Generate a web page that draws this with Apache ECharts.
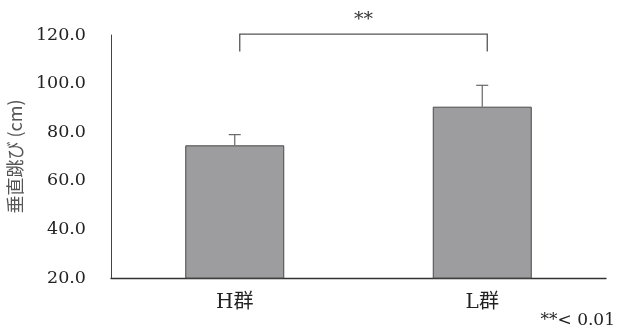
<!DOCTYPE html>
<html><head><meta charset="utf-8">
<script src="https://cdn.jsdelivr.net/npm/echarts@6/dist/echarts.min.js"></script>
<style>html,body{margin:0;padding:0;background:#fff}#c{width:617px;height:331px}</style>
</head><body><div id="c"></div>
<script>
const categories = ['H群', 'L群'];
const means = [74.6, 90.5];
const sds = [4.4, 8.8];
const yTicks = [20, 40, 60, 80, 100, 120];
const sigLabel = '**';
const noteText = '**< 0.01';

const serif = '"DejaVu Serif", "Liberation Serif", serif';
const chart = echarts.init(document.getElementById('c'), null, {renderer: 'canvas'});
chart.setOption({
  animation: false,
  grid: {left: 111, right: 11, top: 35, bottom: 53, outerBoundsMode: 'none', containLabel: false},
  xAxis: {
    type: 'category', data: categories,
    axisLine: {lineStyle: {color: '#333', width: 1.3}},
    axisTick: {show: false},
    axisLabel: {fontFamily: '"DejaVu Serif", "Noto Sans CJK JP", serif', fontSize: 20, color: '#222', margin: 15}
  },
  yAxis: {
    type: 'value', min: yTicks[0], max: yTicks[yTicks.length - 1], interval: 20,
    name: '垂直跳び (cm)', nameLocation: 'middle', nameGap: 87, nameRotate: 90,
    nameTextStyle: {fontFamily: '"Noto Sans CJK JP", serif', fontSize: 18, color: '#555'},
    axisLine: {show: true, lineStyle: {color: '#444', width: 1}},
    axisTick: {show: false},
    splitLine: {show: false},
    axisLabel: {fontFamily: serif, fontSize: 17.5, color: '#222', margin: 25,
      formatter: v => v.toFixed(1)}
  },
  series: [
    {
      type: 'bar', data: means, barWidth: '40%',
      itemStyle: {color: '#9d9da0', borderColor: '#4a4a4a', borderWidth: 1}
    },
    {
      type: 'custom', z: 5,
      data: means.map((m, i) => [i, m, sds[i]]),
      renderItem: function (params, api) {
        const i = api.value(0), m = api.value(1), s = api.value(2);
        const p0 = api.coord([i, m]);
        const p1 = api.coord([i, m + s]);
        return {type: 'group', children: [
          {type: 'line', shape: {x1: p0[0], y1: p0[1], x2: p1[0], y2: p1[1]}, style: {stroke: '#666', lineWidth: 1.2}},
          {type: 'line', shape: {x1: p1[0] - 6, y1: p1[1], x2: p1[0] + 6, y2: p1[1]}, style: {stroke: '#666', lineWidth: 1.2}}
        ]};
      }
    },
    {
      type: 'custom', z: 5, clip: false,
      data: [[0, 1]],
      renderItem: function (params, api) {
        const a = api.coord([api.value(0), 120.4]);
        const b = api.coord([api.value(1), 120.4]);
        const a2 = api.coord([api.value(0), 113.2]);
        const off = 5;
        return {type: 'group', children: [
          {type: 'polyline', shape: {points: [[a[0] + off, a2[1]], [a[0] + off, a[1]], [b[0] + off, b[1]], [b[0] + off, a2[1]]]},
            style: {stroke: '#555', lineWidth: 1.3, fill: null}},
          {type: 'text', x: (a[0] + b[0]) / 2 + off, y: a[1] - 14,
            style: {text: sigLabel, fontSize: 19, fontFamily: serif, fill: '#333', align: 'center', verticalAlign: 'middle'}}
        ]};
      }
    }
  ],
  graphic: [
    {type: 'text', right: 2, top: 312,
      style: {text: noteText, fontFamily: serif, fontSize: 17, fill: '#222'}}
  ]
});
</script></body></html>
